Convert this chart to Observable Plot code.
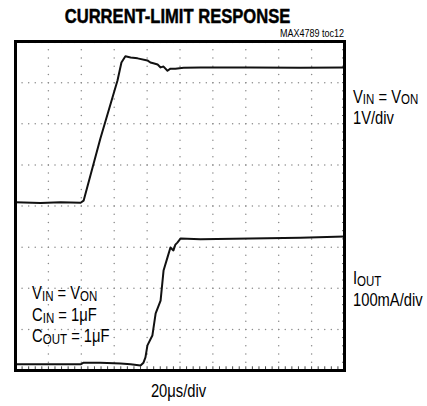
<!DOCTYPE html>
<html>
<head>
<meta charset="utf-8">
<script src="https://cdn.jsdelivr.net/npm/d3@7"></script>
<script src="https://cdn.jsdelivr.net/npm/@observablehq/plot@0.6"></script>
<style>
  html, body { margin: 0; padding: 0; background: #fff; }
  svg text.lbl { font-family: "Liberation Sans", Arial, sans-serif; fill: #000; }
</style>
</head>
<body>
<div id="chart"></div>
<script>
// Time in divisions (20 µs/div), level in divisions from bottom of screen
const vinTime  = [0, 0.76, 1.37, 1.98, 2.07, 2.58, 3.10, 3.22, 3.34, 3.50, 3.71, 4.01, 4.10, 4.19, 4.32, 4.41, 4.50, 4.62, 4.71, 4.86, 5.11, 5.62, 7.14, 8.66, 10];
const vinLevel = [4.09, 4.07, 4.09, 4.08, 4.13, 5.64, 7.05, 7.49, 7.64, 7.61, 7.59, 7.54, 7.49, 7.47, 7.44, 7.37, 7.39, 7.29, 7.34, 7.34, 7.36, 7.37, 7.37, 7.36, 7.37];

const ioutTime  = [0, 1.06, 1.98, 2.07, 2.58, 3.19, 3.50, 3.80, 3.89, 3.95, 4.01, 4.16, 4.26, 4.41, 4.50, 4.62, 4.71, 4.80, 4.86, 4.92, 5.02, 5.62, 7.14, 8.66, 10];
const ioutLevel = [0.15, 0.15, 0.15, 0.19, 0.19, 0.17, 0.15, 0.12, 0.19, 0.32, 0.61, 0.85, 1.39, 1.70, 2.43, 2.75, 2.99, 2.92, 3.06, 3.11, 3.21, 3.19, 3.21, 3.23, 3.26];

const xDivs = 10, yDivs = 8, minor = 5;
const title = "CURRENT-LIMIT RESPONSE";
const figId = "MAX4789 toc12";

const vin = vinTime.map((t, i) => ({t, v: vinLevel[i]}));
const iout = ioutTime.map((t, i) => ({t, v: ioutLevel[i]}));

// graticule dots
const gridDots = [];
for (let i = 1; i < xDivs; i++) for (let j = 0; j <= yDivs * minor; j++) gridDots.push({x: i, y: j / minor});
for (let j = 1; j < yDivs; j++) for (let i = 0; i <= xDivs * minor; i++) gridDots.push({x: i / minor, y: j});
const xMinor = d3.range(1, xDivs * minor).map(i => i / minor);
const yMinor = d3.range(1, yDivs * minor).map(i => i / minor);

const plot = Plot.plot({
  width: 427, height: 406,
  marginLeft: 15, marginTop: 41, marginRight: 83, marginBottom: 36,
  x: {domain: [0, xDivs], axis: null},
  y: {domain: [0, yDivs], axis: null},
  marks: [
    Plot.dot(gridDots, {x: "x", y: "y", r: 0.75, fill: "#8a8a8a", stroke: "none"}),
    Plot.ruleX(xMinor, {y1: 0, y2: 0.09, stroke: "#444", strokeWidth: 1}),
    Plot.ruleX(xMinor, {y1: yDivs - 0.05, y2: yDivs, stroke: "#666", strokeWidth: 1}),
    Plot.ruleY(yMinor, {x1: 0, x2: 0.06, stroke: "#666", strokeWidth: 1}),
    Plot.ruleY(yMinor, {x1: xDivs - 0.06, x2: xDivs, stroke: "#666", strokeWidth: 1}),
    Plot.line(vin, {x: "t", y: "v", stroke: "#111", strokeWidth: 2, curve: "linear"}),
    Plot.line(iout, {x: "t", y: "v", stroke: "#111", strokeWidth: 2, curve: "linear"}),
    Plot.frame({stroke: "#000", strokeWidth: 3})
  ]
});

document.getElementById("chart").appendChild(plot);
const svg = d3.select(plot);
const sx = plot.scale("x"), sy = plot.scale("y");
const X = v => sx.apply(v), Y = v => sy.apply(v);

function label(x, y, parts, size, opts = {}) {
  const k = opts.squeeze || 0.82;
  const g = svg.append("g").attr("transform", `translate(${x},${y}) scale(${k},1)`);
  const t = g.append("text").attr("class", "lbl")
    .attr("text-anchor", opts.anchor || "start").style("font-size", size + "px");
  if (opts.weight) t.style("font-weight", opts.weight);
  if (opts.stroke) t.style("stroke", "#000").style("stroke-width", opts.stroke);
  let lowered = false;
  for (const p of parts) {
    if (typeof p === "string") {
      const s = t.append("tspan").text(p);
      if (lowered) { s.attr("dy", -1.5); lowered = false; }
    } else {
      t.append("tspan").attr("dy", 1.5).style("font-size", (size * 0.78) + "px").text(p.sub);
      lowered = true;
    }
  }
  return t;
}

// title & figure id
label(X(xDivs / 2) - 2, 23, [title], 21, {anchor: "middle", weight: "bold", squeeze: 0.79, stroke: 0.5});
label(X(xDivs), 37, [figId], 11, {anchor: "end"});

// right-hand channel labels
const rx = X(xDivs) + 9;
label(rx, Y(6.5), ["V", {sub: "IN"}, " = V", {sub: "ON"}], 18);
label(rx, Y(5.98), ["1V/div"], 18);
label(rx, Y(2.09), ["I", {sub: "OUT"}], 18);
label(rx, Y(1.56), ["100mA/div"], 18);

// conditions inside plot
const lx = X(0.52);
label(lx, Y(1.72), ["V", {sub: "IN"}, " = V", {sub: "ON"}], 18);
label(lx, Y(1.19), ["C", {sub: "IN"}, " = 1\u03bcF"], 18);
label(lx, Y(0.68), ["C", {sub: "OUT"}, " = 1\u03bcF"], 18);

// time base
label(X(xDivs / 2) - 1, 397, ["20\u03bcs/div"], 18, {anchor: "middle"});
</script>
</body>
</html>
